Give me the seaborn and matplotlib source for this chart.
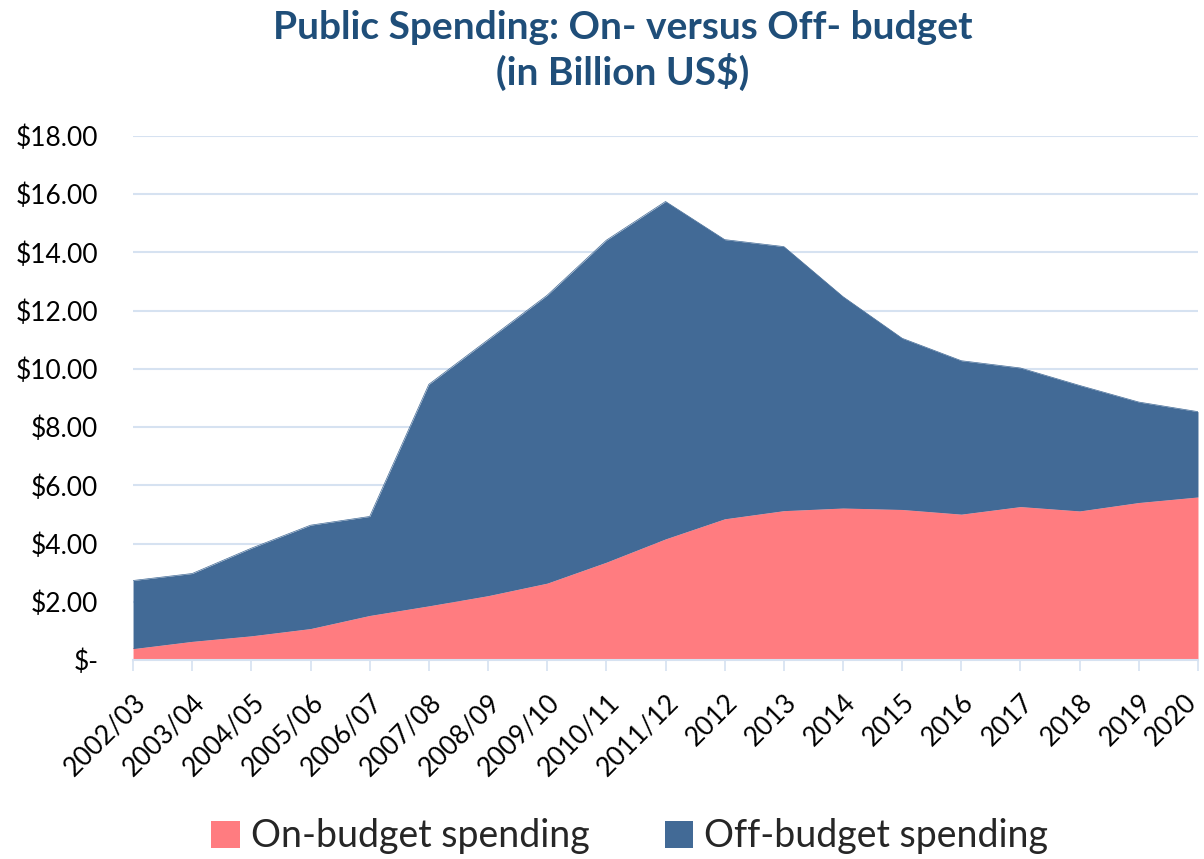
import numpy as np
import pandas as pd
import matplotlib
matplotlib.use("Agg")
import matplotlib.pyplot as plt
import seaborn as sns

years = ["2002/03", "2003/04", "2004/05", "2005/06", "2006/07", "2007/08", "2008/09",
         "2009/10", "2010/11", "2011/12", "2012", "2013", "2014", "2015", "2016",
         "2017", "2018", "2019", "2020"]
on_budget = [0.39, 0.64, 0.83, 1.08, 1.53, 1.86, 2.21, 2.64, 3.36, 4.16, 4.85, 5.13,
             5.22, 5.17, 5.01, 5.27, 5.12, 5.41, 5.60]
off_budget = [2.34, 2.33, 3.01, 3.55, 3.40, 7.61, 8.79, 9.89, 11.06, 11.59, 9.59, 9.07,
              7.26, 5.88, 5.27, 4.76, 4.31, 3.45, 2.93]
y_ticks = [0, 2, 4, 6, 8, 10, 12, 14, 16, 18]
y_labels = ["$-", "$2.00", "$4.00", "$6.00", "$8.00", "$10.00", "$12.00", "$14.00",
            "$16.00", "$18.00"]

df = pd.DataFrame({"year": years, "On-budget spending": on_budget,
                   "Off-budget spending": off_budget})
df["x"] = np.arange(len(df))
df["total"] = df["On-budget spending"] + df["Off-budget spending"]

sns.set_theme(style="white")
plt.rcParams["font.family"] = ["Lato", "DejaVu Sans"]

PINK = "#FF7C80"
BLUE = "#426A96"
GRID = "#D6E2F1"

fig = plt.figure(figsize=(12.04, 8.59), dpi=100)
ax = fig.add_axes([0.1105, 0.2317, 0.8845, 0.61])

sns.lineplot(data=df, x="x", y="On-budget spending", ax=ax, color=PINK, linewidth=0.5)
sns.lineplot(data=df, x="x", y="total", ax=ax, color=BLUE, linewidth=0.5)
ax.fill_between(df["x"], 0, df["On-budget spending"], color=PINK, linewidth=0,
                label="On-budget spending", zorder=2)
ax.fill_between(df["x"], df["On-budget spending"], df["total"], color=BLUE, linewidth=0,
                label="Off-budget spending", zorder=2)

ax.set_xlim(0, len(years) - 1)
ax.set_ylim(0, 18)
ax.set_yticks(y_ticks)
ax.set_yticklabels(y_labels, fontsize=19, color="#000000")
ax.set_xticks(df["x"])
ax.set_xticklabels([])
for i, yr in enumerate(years):
    dx = -10 if i == len(years) - 1 else 0
    ax.annotate(yr, xy=(df["x"][i], 0), xycoords=("data", "axes fraction"),
                xytext=(dx, -21), textcoords="offset points", rotation=45,
                ha="right", va="top", rotation_mode="anchor", fontsize=19,
                color="#000000", annotation_clip=False)
ax.set_xlabel("")
ax.set_ylabel("")
ax.yaxis.grid(True, color=GRID, linewidth=1.5, zorder=0)
ax.set_axisbelow(True)
for s in ["top", "right", "left"]:
    ax.spines[s].set_visible(False)
ax.spines["bottom"].set_color(GRID)
ax.spines["bottom"].set_linewidth(1.5)
ax.tick_params(axis="x", which="major", length=8, width=1.2, color=GRID,
               bottom=True, direction="out")
ax.tick_params(axis="y", length=0, pad=25)

fig.text(0.517, 0.988, "Public Spending: On- versus Off- budget\n(in Billion US$)",
         ha="center", va="top", fontsize=28, fontweight="bold", color="#1F4E79",
         linespacing=1.25)

handles, labels = ax.get_legend_handles_labels()
fig.legend(handles, labels, loc="lower center", bbox_to_anchor=(0.523, -0.034), ncol=2,
           frameon=False, fontsize=27, handlelength=0.75, handleheight=0.75,
           handletextpad=0.3, columnspacing=2.0)

fig.savefig("out.png", dpi=100)
